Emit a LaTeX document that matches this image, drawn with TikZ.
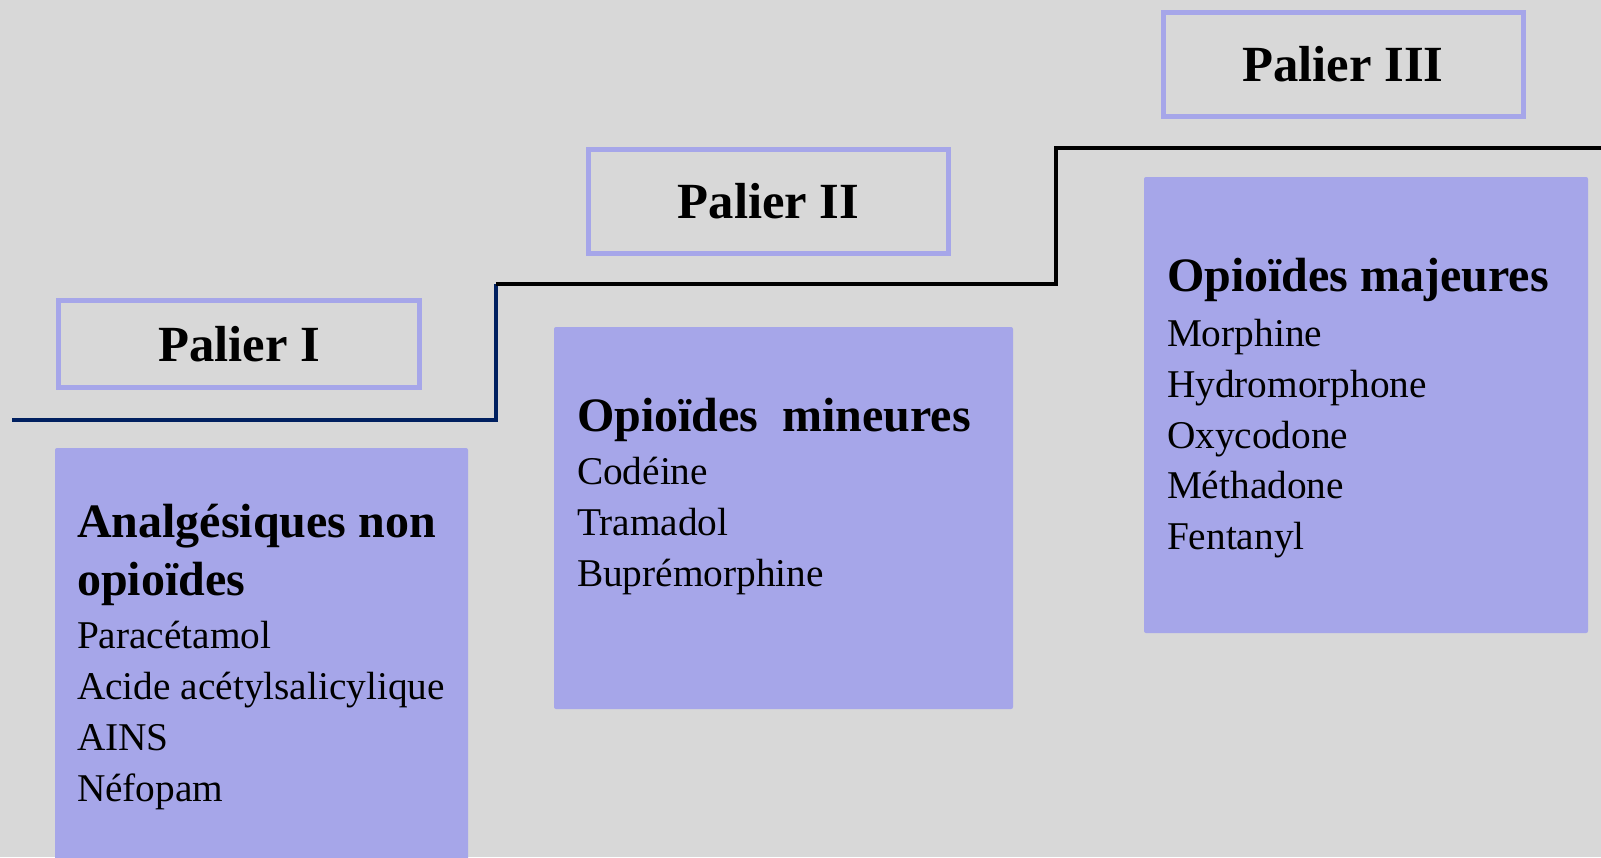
\documentclass[tikz,border=0pt]{standalone}
\usepackage{fontspec}
\setmainfont{Liberation Serif}
\usetikzlibrary{positioning}
\definecolor{bggray}{HTML}{D8D8D8}
\definecolor{lilac}{HTML}{A6A6E9}
\definecolor{stepnavy}{HTML}{002060}

\begin{document}
\begin{tikzpicture}[x=0.75pt, y=-0.75pt,
  palier/.style={rectangle, draw=lilac, line width=3.75pt, inner sep=0pt, font=\fontsize{38}{44}\selectfont\bfseries},
  drugbox/.style={rectangle, fill=lilac, inner sep=0pt, rounded corners=1.5pt},
  head/.style={anchor=base west, inner sep=0pt, font=\fontsize{36}{42}\selectfont\bfseries},
  item/.style={anchor=base west, inner sep=0pt, font=\fontsize{29.5}{38}\selectfont}]
  % background and page size
  \fill[bggray] (0,0) rectangle (1601,857);
  \useasboundingbox (0,0) rectangle (1601,857);

  % the stairs
  \draw[stepnavy, line width=3.4pt] (12,420) -- (496,420) -- (496,284);
  \draw[black, line width=3.4pt] (496,284) -- (1056,284) -- (1056,148) -- (1601,148);

  % level labels
  \node[palier, minimum width=270.75pt, minimum height=65.25pt] (pal1) at (239,344) {Palier I};
  \node[palier, minimum width=270pt, minimum height=78pt] (pal2) at (768.5,201) {Palier II};
  \node[palier, minimum width=270pt, minimum height=78pt] (pal3) at (1343,64.5) {Palier III};

  % drug boxes
  \begin{scope}
    \clip (0,0) rectangle (1601,857);
    \node[drugbox, minimum width=309.75pt, minimum height=316.5pt] (b1) at (261.5,659) {};
  \end{scope}
  \node[drugbox, minimum width=344.25pt, minimum height=286.5pt] (b2) at (783.5,518) {};
  \node[drugbox, minimum width=333pt, minimum height=342pt] (b3) at (1366,405) {};

  % level I
  \node[head] (h1a) at ([shift={(22,90)}]b1.north west) {Analgésiques non};
  \node[head] (h1b) at ([shift={(22,148)}]b1.north west) {opioïdes};
  \foreach \drug [count=\i from 0] in {Paracétamol, Acide acétylsalicylique, AINS, Néfopam}
    \node[item] (d1-\i) at ([shift={(22,201+51*\i)}]b1.north west) {\drug};

  % level II
  \node[head] (h2) at ([shift={(23,105)}]b2.north west) {Opioïdes\ \ mineures};
  \foreach \drug [count=\i from 0] in {Codéine, Tramadol, Buprémorphine}
    \node[item] (d2-\i) at ([shift={(23,158+51*\i)}]b2.north west) {\drug};

  % level III
  \node[head] (h3) at ([shift={(23,115)}]b3.north west) {Opioïdes majeures};
  \foreach \drug [count=\i from 0] in {Morphine, Hydromorphone, Oxycodone, Méthadone, Fentanyl}
    \node[item] (d3-\i) at ([shift={(23,170+50.7*\i)}]b3.north west) {\drug};
\end{tikzpicture}
\end{document}
